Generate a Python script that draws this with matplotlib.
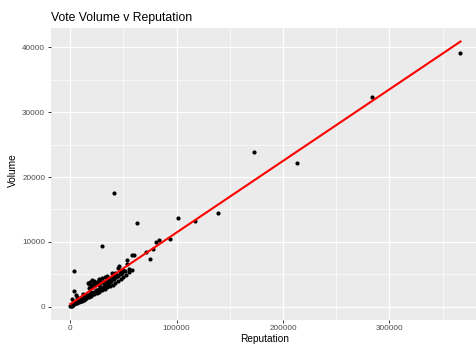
import numpy as np
import matplotlib.pyplot as plt
from matplotlib.ticker import MultipleLocator, FuncFormatter

plt.rcParams['font.family'] = ['Liberation Sans', 'DejaVu Sans']

# reputation / vote volume per user
reputation = [
    366700, 283700, 212700, 173000, 138800, 117500, 101500, 93300, 83000, 80200,
    77500, 75000, 71000, 62500, 58000, 60000, 58500, 53000, 53700, 46000,
    45000, 55600, 42200, 41200, 39700, 48400, 51600, 43800, 40600, 36600,
    34400, 32800, 34000, 30300, 30000, 26900, 26600, 25300, 25000, 28100,
    31200, 35900, 22200, 19000, 16900, 20900, 17200, 17500, 20600, 23700,
    26900, 30000, 4000, 4000, 5000, 0, 1900, 7500, 9700, 12800,
    15900, 500, 1000, 1500, 2500, 3000, 3500, 5500, 6000, 6500,
    8000, 8500, 9000, 10500, 11000, 11500, 13500, 14000, 14500, 16000,
    17000, 18000, 18500, 19500, 20000, 21000, 22000, 23000, 24000, 25500,
    27000, 28000, 29000, 30500, 32000, 33000, 34500, 36000, 37500, 38500,
    40000, 41500, 43000, 44500, 46500, 48000, 50000, 20000, 22000, 27500,
    2000, 6000, 12000, 33500, 35000, 38000, 42000, 47000,
    10000, 15000, 20000, 25000, 30000, 35000, 40000, 45000, 50000, 12500,
    17500, 22500, 27500, 32500, 37500, 42500, 47500, 52000, 55000,
]
volume = [
    39200, 32340, 22100, 23800, 14500, 13200, 13740, 10400, 10300, 9950,
    8900, 7400, 8400, 12900, 8000, 8000, 5600, 7200, 6630, 6200,
    5900, 5800, 5260, 17530, 5160, 5160, 5420, 4900, 4630, 4210,
    4740, 4530, 4630, 9370, 4370, 4210, 4110, 3840, 3680, 3580,
    3840, 3840, 4000, 3840, 3580, 4100, 3420, 2800, 3050, 3320,
    3580, 3840, 5450, 2450, 1740, 160, 420, 840, 1210, 1470,
    1740, 50, 300, 100, 250, 500, 350, 600, 500, 900,
    700, 1000, 800, 1100, 900, 1300, 1200, 1500, 1300, 1500,
    1800, 1700, 2000, 1900, 2200, 2000, 2300, 2200, 2500, 2600,
    2700, 2900, 2800, 3100, 3200, 3400, 3500, 3700, 3800, 4000,
    4200, 4300, 4500, 4700, 5000, 5300, 5600, 3300, 3600, 3300,
    1100, 1500, 1900, 3900, 4100, 4400, 4700, 5500,
    850, 1250, 1700, 2100, 2550, 3000, 3400, 3900, 4500, 1050,
    1450, 1900, 2300, 2750, 3150, 3650, 4200, 4900, 5300,
]

x = np.array(reputation, dtype=float)
y = np.array(volume, dtype=float)

slope, intercept = np.polyfit(x, y, 1)
xs = np.array([x.min(), x.max()])
ys = slope * xs + intercept

W, H = 476, 345
fig = plt.figure(figsize=(W / 100, H / 100), dpi=100)
ax = fig.add_axes([50.7 / W, 25.5 / H, 429.3 / W, 291.2 / H])
ax.set_facecolor('#EBEBEB')

ax.scatter(x, y, s=9, color='black', linewidths=0, zorder=3)
ax.plot(xs, ys, color='#FF0000', lw=1.5, zorder=4)

# 5% padding on both axes
xlo, xhi = x.min(), x.max()
ylo, yhi = min(y.min(), ys.min()), max(y.max(), ys.max())
ax.set_xlim(xlo - 0.05 * (xhi - xlo), xhi + 0.05 * (xhi - xlo))
ax.set_ylim(ylo - 0.05 * (yhi - ylo), yhi + 0.05 * (yhi - ylo))

ax.xaxis.set_major_locator(MultipleLocator(100000))
ax.xaxis.set_minor_locator(MultipleLocator(50000))
ax.yaxis.set_major_locator(MultipleLocator(10000))
ax.yaxis.set_minor_locator(MultipleLocator(5000))
fmt = FuncFormatter(lambda v, p: '%d' % v)
ax.xaxis.set_major_formatter(fmt)
ax.yaxis.set_major_formatter(fmt)

ax.grid(which='major', color='white', lw=0.9)
ax.grid(which='minor', color='white', lw=0.45)
ax.set_axisbelow(True)
for s in ax.spines.values():
    s.set_visible(False)
ax.tick_params(which='major', length=2.2, width=0.7, color='#333333',
               labelsize=5.9, labelcolor='#4D4D4D', pad=1.8)
ax.tick_params(which='minor', length=0)

fig.text(265 / W, 1 - 342.5 / H, 'Reputation', fontsize=7.3,
         ha='center', va='baseline')
fig.text(18.3 / W, 1 - 170 / H, 'Volume', fontsize=7.3, rotation=90,
         ha='right', va='center')
fig.text(50.7 / W, 1 - 20.7 / H, 'Vote Volume v Reputation',
         fontsize=8.8, ha='left', va='baseline')

fig.savefig('out.png', dpi=100)
